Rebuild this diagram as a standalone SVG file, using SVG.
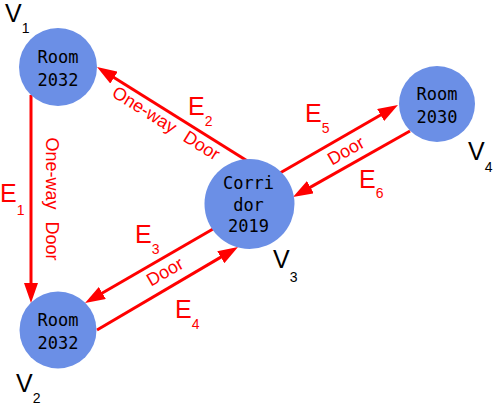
<svg xmlns="http://www.w3.org/2000/svg" width="498" height="406" viewBox="0 0 498 406">
<style>
.node{fill:#6B8FE6}
.nt{font-family:"DejaVu Sans Mono","Liberation Mono",monospace;font-size:17px;fill:#000;text-anchor:middle}
.edge{stroke:#FF0000;stroke-width:3;fill:none}
.lab{font-family:"Liberation Sans",Arial,sans-serif;fill:#FF0000;font-size:25px}
.sub{font-size:14px}
.door{font-family:"Liberation Sans",Arial,sans-serif;font-size:18px;fill:#FF0000;text-anchor:middle;word-spacing:7px}
.vl{font-family:"Liberation Sans",Arial,sans-serif;fill:#000;font-size:25px}
</style>
<defs>
<marker id="arr" markerUnits="userSpaceOnUse" markerWidth="20" markerHeight="14" refX="10" refY="7" orient="auto" viewBox="0 0 20 14">
<path d="M0,0 L20,7 L0,14 z" fill="#FF0000"/>
</marker>
</defs>
<g id="connectors">
<g id="E1"><line class="edge" x1="31" y1="95" x2="31" y2="293" marker-end="url(#arr)"/>
<text class="door" transform="translate(46,199) rotate(90)">One-way Door</text>
<text class="lab" x="0" y="202">E<tspan class="sub" dy="13">1</tspan></text></g>
<g id="E2"><line class="edge" x1="249" y1="162" x2="105.5" y2="72.3" marker-end="url(#arr)"/>
<text class="door" transform="translate(172,114) rotate(32)" y="17">One-way Door</text>
<text class="lab" x="188" y="115">E<tspan class="sub" dy="11">2</tspan></text></g>
<g id="E3"><line class="edge" x1="213" y1="229" x2="93.7" y2="298" marker-end="url(#arr)"/>
<text class="lab" x="135" y="243">E<tspan class="sub" dy="11">3</tspan></text></g>
<g id="E4"><line class="edge" x1="97" y1="330" x2="229.4" y2="252.1" marker-end="url(#arr)"/>
<text class="lab" x="175" y="318">E<tspan class="sub" dy="11">4</tspan></text></g>
<text class="door" transform="translate(168,277) rotate(-30)">Door</text>
<g id="E5"><line class="edge" x1="280" y1="173" x2="389.3" y2="110" marker-end="url(#arr)"/>
<text class="lab" x="305" y="122">E<tspan class="sub" dy="11">5</tspan></text></g>
<g id="E6"><line class="edge" x1="410" y1="131" x2="301.7" y2="192.1" marker-end="url(#arr)"/>
<text class="lab" x="359" y="188">E<tspan class="sub" dy="10">6</tspan></text></g>
<text class="door" transform="translate(349,156) rotate(-30)">Door</text>
</g>
<g id="V1"><circle class="node" cx="58" cy="67" r="39"/>
<text class="nt" x="58" y="63">Room</text><text class="nt" x="58" y="85.5">2032</text>
<text class="vl" x="5" y="22">V<tspan class="sub" dy="11">1</tspan></text></g>
<g id="V2"><circle class="node" cx="58" cy="330" r="38.5"/>
<text class="nt" x="58" y="326">Room</text><text class="nt" x="58" y="348.5">2032</text>
<text class="vl" x="16" y="392">V<tspan class="sub" dy="11">2</tspan></text></g>
<g id="V3"><circle class="node" cx="249.5" cy="204" r="45"/>
<text class="nt" x="248.5" y="189.3">Corri</text><text class="nt" x="248.5" y="210.7">dor</text><text class="nt" x="248.5" y="232">2019</text>
<text class="vl" x="273" y="268">V<tspan class="sub" dy="14">3</tspan></text></g>
<g id="V4"><circle class="node" cx="437" cy="104" r="38"/>
<text class="nt" x="437" y="100">Room</text><text class="nt" x="437" y="122.5">2030</text>
<text class="vl" x="468" y="160">V<tspan class="sub" dy="12">4</tspan></text></g>
</svg>
